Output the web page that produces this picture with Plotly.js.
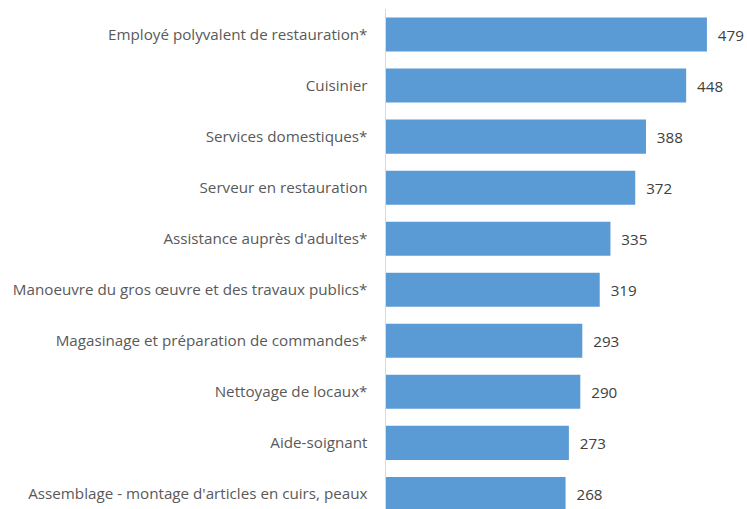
<!DOCTYPE html>
<html><head><meta charset="utf-8">
<script src="https://cdn.plot.ly/plotly-3.0.1.min.js"></script>
<style>html,body{margin:0;padding:0;background:#fff}</style>
</head><body><div id="chart" style="width:747px;height:509px"></div>
<script>
const categories = [
  "Employé polyvalent de restauration*",
  "Cuisinier",
  "Services domestiques*",
  "Serveur en restauration",
  "Assistance auprès d'adultes*",
  "Manoeuvre du gros œuvre et des travaux publics*",
  "Magasinage et préparation de commandes*",
  "Nettoyage de locaux*",
  "Aide-soignant",
  "Assemblage - montage d'articles en cuirs, peaux"
];
const values = [479, 448, 388, 372, 335, 319, 293, 290, 273, 268];

const trace = {
  type: 'bar',
  orientation: 'h',
  y: categories,
  x: values,
  marker: {color: '#5b9bd5'},
  text: values.map(v => '\u00a0\u00a0' + v),
  textposition: 'outside',
  textfont: {family: '"Open Sans", sans-serif', size: 15.2, color: '#404040'},
  cliponaxis: false,
  hoverinfo: 'none'
};
const layout = {
  width: 747, height: 509,
  margin: {l: 386, r: 0, t: 8.5, b: 0, pad: 0},
  paper_bgcolor: '#fff', plot_bgcolor: '#fff',
  bargap: 0.333,
  showlegend: false,
  xaxis: {range: [0, 538.8], visible: false, fixedrange: true},
  yaxis: {
    type: 'category',
    range: [9.295, -0.5],
    showline: true, linecolor: '#d9d9d9', linewidth: 1.5,
    showgrid: false, zeroline: false, ticks: '',
    ticklabelstandoff: 14,
    tickfont: {family: '"Open Sans", sans-serif', size: 15.2, color: '#595959'}
  }
};
Plotly.newPlot('chart', [trace], layout, {staticPlot: true});
</script></body></html>
